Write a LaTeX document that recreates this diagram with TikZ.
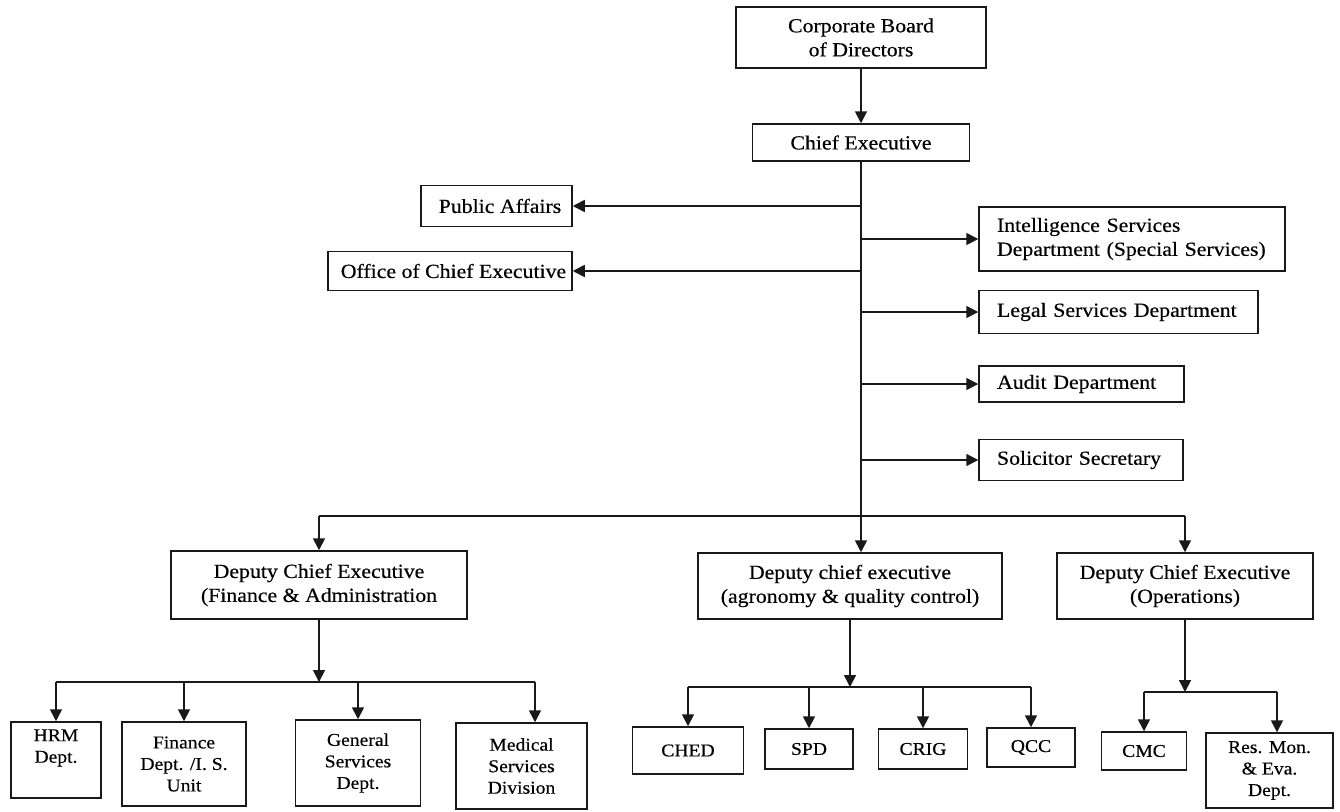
\documentclass[tikz,border=0pt]{standalone}
\usepackage{fontspec}
\setmainfont{Liberation Serif}[FakeStretch=1.09,FakeBold=0.4]
\usetikzlibrary{arrows.meta}
\begin{document}
\begin{tikzpicture}[x=1pt,y=-1pt,
  box/.style={draw=black!90, line width=1.5pt, inner sep=0pt, align=center,
              font=\fontsize{20}{24}\selectfont},
  lbox/.style={box, align=left, inner xsep=18pt},
  sbox/.style={box, font=\fontsize{18}{21.5}\selectfont},
  link/.style={draw=black!90, line width=1.7pt},
  arr/.style={link, -{Triangle[width=12pt,length=12pt]}},
]
\useasboundingbox (0,0) rectangle (1340,811);

% top of the hierarchy
\node[box, minimum width=250pt, minimum height=61pt] (board) at (861,37.5) {Corporate Board\\of Directors};
\node[box, minimum width=217pt, minimum height=37pt] (ce) at (861,142.5) {Chief Executive};

% staff units on the left
\node[box, minimum width=151pt, minimum height=41pt] (pa) at (496.5,206) {\hspace{7pt}Public Affairs};
\node[box, minimum width=244pt, minimum height=39pt] (oce) at (450,271) {\hspace{7pt}Office of Chief Executive};

% staff units on the right
\node[lbox, text width=270pt, minimum height=64pt] (isd) at (1132,239) {Intelligence Services\\Department (Special Services)};
\node[lbox, text width=243pt, minimum height=43pt] (lsd) at (1118.5,312) {Legal Services Department};
\node[lbox, text width=169pt, minimum height=36pt] (aud) at (1081.5,384) {Audit Department};
\node[lbox, text width=168pt, minimum height=41pt] (sol) at (1081,460) {Solicitor Secretary};

% deputies
\node[box, minimum width=296pt, minimum height=68pt] (fa) at (319,585) {Deputy Chief Executive\\(Finance \& Administration};
\node[box, minimum width=304pt, minimum height=66pt] (agr) at (850,586) {Deputy chief executive\\(agronomy \& quality control)};
\node[box, minimum width=256pt, minimum height=66pt] (ops) at (1185,586) {Deputy Chief Executive\\(Operations)};

% finance & administration units
\node[sbox, minimum width=90pt, minimum height=76pt] (hrm) at (56,760) {HRM\\Dept.\\\strut};
\node[sbox, minimum width=124pt, minimum height=84pt] (fin) at (184,764) {Finance\\Dept. /I. S.\\Unit};
\node[sbox, minimum width=125pt, minimum height=86pt] (gen) at (358,763) {General\\Services\\Dept.};
\node[sbox, minimum width=131pt, minimum height=86pt] (med) at (521.5,766) {Medical\\Services\\Division};

% agronomy & quality control units
\node[sbox, minimum width=111pt, minimum height=47pt] (ched) at (688,750.5) {CHED};
\node[sbox, minimum width=88pt, minimum height=40pt] (spd) at (809,749) {SPD};
\node[sbox, minimum width=89pt, minimum height=40pt] (crig) at (923,749) {CRIG};
\node[sbox, minimum width=88pt, minimum height=39pt] (qcc) at (1031,747.5) {QCC};

% operations units
\node[sbox, minimum width=85pt, minimum height=38pt] (cmc) at (1144,751) {CMC};
\node[sbox, minimum width=127pt, minimum height=75pt] (res) at (1269.5,770.5) {Res. Mon.\\\& Eva.\\Dept.};

% main trunk
\draw[arr] (board) -- (ce);
\draw[arr] (ce.south) -- (ce.south |- agr.north);
\foreach \n in {pa,oce} \draw[arr] (ce.south |- \n.east) -- (\n.east);
\foreach \n in {isd,lsd,aud,sol} \draw[arr] (ce.south |- \n.west) -- (\n.west);

% split to the deputies
\coordinate (split) at (861,516);
\draw[link] (split -| fa.north) -- (split -| ops.north);
\draw[arr] (split -| fa.north) -- (fa.north);
\draw[arr] (split -| ops.north) -- (ops.north);

% finance & administration branch
\coordinate (faj) at (fa.south |- 0,682);
\coordinate (dmed) at (535,682);
\draw[arr] (fa.south) -- (faj);
\draw[link] (faj -| hrm.north) -- (dmed);
\foreach \n in {hrm,fin,gen} \draw[arr] (faj -| \n.north) -- (\n.north);
\draw[arr] (dmed) -- (dmed |- med.north);

% agronomy branch
\coordinate (agj) at (agr.south |- 0,687);
\draw[arr] (agr.south) -- (agj);
\draw[link] (agj -| ched.north) -- (agj -| qcc.north);
\foreach \n in {ched,spd,crig,qcc} \draw[arr] (agj -| \n.north) -- (\n.north);

% operations branch
\coordinate (opj) at (ops.south |- 0,692);
\coordinate (dres) at (1277,692);
\draw[arr] (ops.south) -- (opj);
\draw[link] (opj -| cmc.north) -- (dres);
\draw[arr] (opj -| cmc.north) -- (cmc.north);
\draw[arr] (dres) -- (dres |- res.north);
\end{tikzpicture}
\end{document}
